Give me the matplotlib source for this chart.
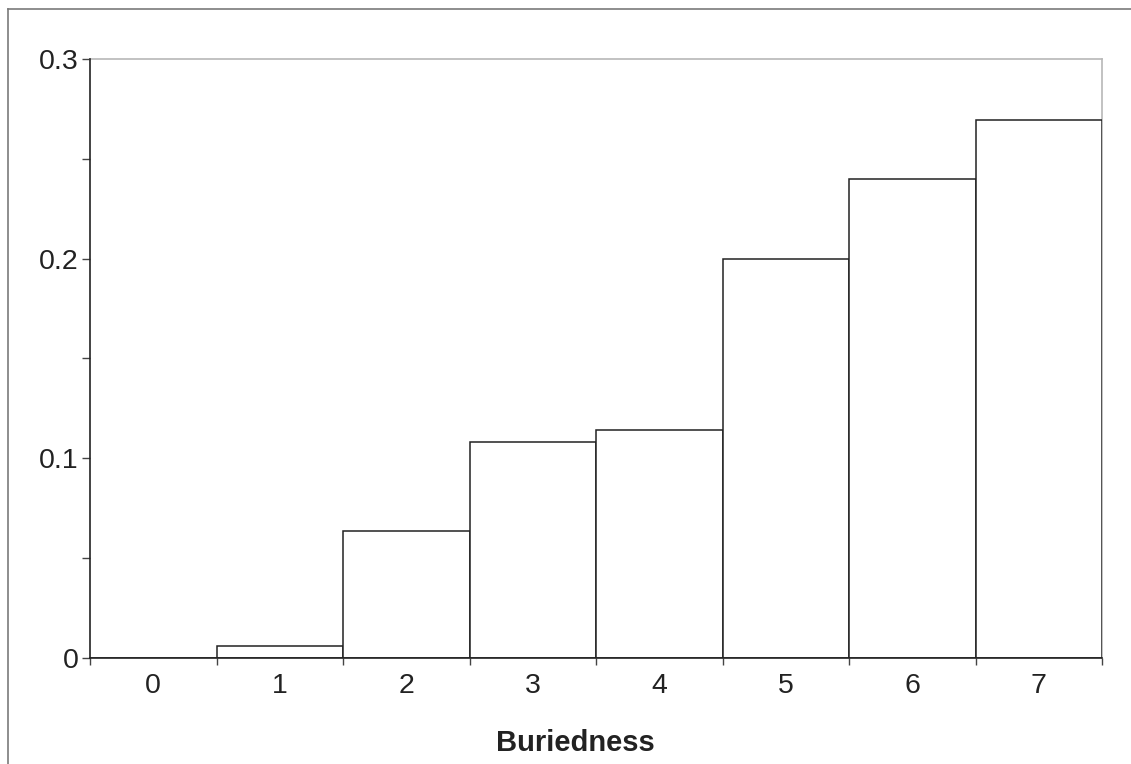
import numpy as np
import matplotlib
matplotlib.use("Agg")
import matplotlib.pyplot as plt
from matplotlib.lines import Line2D
from matplotlib.ticker import MultipleLocator

plt.rcParams['font.family'] = ['Liberation Sans', 'DejaVu Sans']

# Histogram of buriedness (fraction per bin)
buriedness = [0, 1, 2, 3, 4, 5, 6, 7]
fraction = [0.0, 0.0058, 0.0634, 0.108, 0.1142, 0.1997, 0.240, 0.2692]
y_ticks = [0, 0.1, 0.2, 0.3]
y_tick_labels = ['0', '0.1', '0.2', '0.3']

W, H = 1131, 764
fig = plt.figure(figsize=(W / 100, H / 100), dpi=100)
ax = fig.add_axes([90 / W, 1 - 658 / H, (1102 - 90) / W, (658 - 59) / H])

ax.bar(buriedness, fraction, width=1.0, color='white', edgecolor='#222222',
       linewidth=1.1, zorder=3)

ax.set_xlim(-0.5, 7.5)
ax.set_ylim(0, 0.3)

# labels at bin centres, ticks at bin edges
ax.set_xticks(buriedness)
ax.set_xticklabels([str(b) for b in buriedness])
ax.set_xticks(np.arange(-0.5, 8.0, 1.0), minor=True)
ax.tick_params(axis='x', which='major', length=0, pad=11, labelsize=20.5,
               labelcolor='#222222')
ax.tick_params(axis='x', which='minor', length=5, width=1.0, color='#444444',
               direction='out')

ax.set_yticks(y_ticks)
ax.set_yticklabels(y_tick_labels)
ax.yaxis.set_minor_locator(MultipleLocator(0.05))
ax.tick_params(axis='y', which='both', length=6, width=1.0, color='#444444',
               direction='out', pad=2, labelsize=20.5, labelcolor='#222222')

for side in ['left', 'bottom']:
    ax.spines[side].set_color('#222222')
    ax.spines[side].set_linewidth(1.2)
    ax.spines[side].set_zorder(4)
for side in ['top', 'right']:
    ax.spines[side].set_color('#b8b8b8')
    ax.spines[side].set_linewidth(1.2)

fig.text(575 / W, 1 - 743 / H, 'Buriedness', ha='center', va='center',
         fontsize=21, fontweight='bold', color='#222222')

# outer frame (top and left edges)
fig.add_artist(Line2D([8 / W, 8 / W], [0, 1 - 9 / H], transform=fig.transFigure,
                      color='#7a7a7a', linewidth=1.2))
fig.add_artist(Line2D([8 / W, 1], [1 - 9 / H, 1 - 9 / H], transform=fig.transFigure,
                      color='#7a7a7a', linewidth=1.2))

fig.savefig('out.png', dpi=100, facecolor='white')
